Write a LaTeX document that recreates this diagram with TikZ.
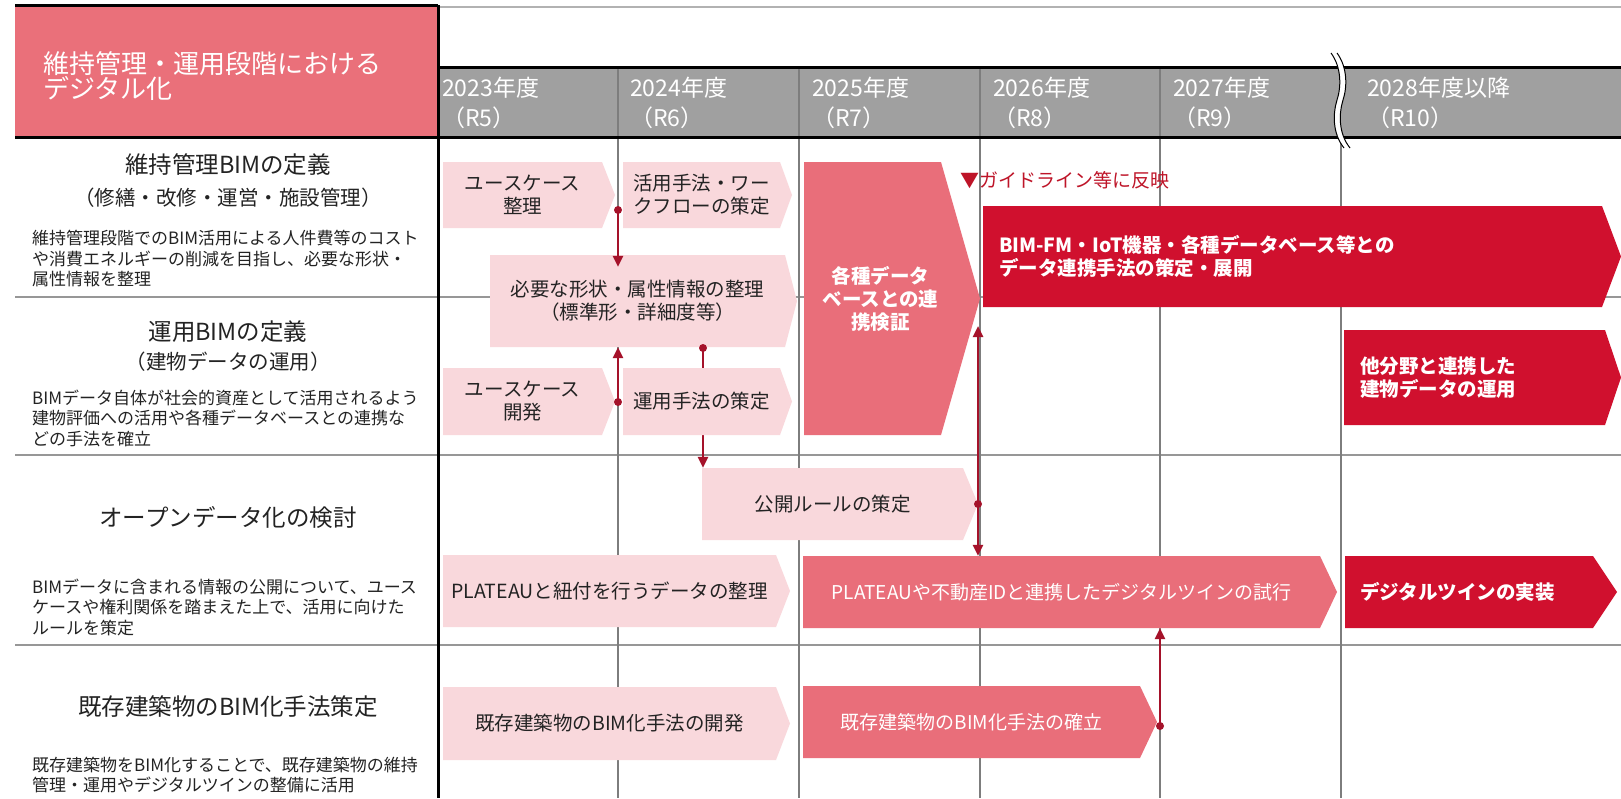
\documentclass[tikz,border=0pt]{standalone}
\usepackage{fontspec}
\setmainfont{Noto Sans CJK JP}
\usetikzlibrary{arrows.meta,calc}
\definecolor{titlered}{RGB}{234,112,122}
\definecolor{midpink}{RGB}{233,110,122}
\definecolor{lightpink}{RGB}{249,216,220}
\definecolor{darkred}{RGB}{208,16,46}
\definecolor{connred}{RGB}{165,18,42}
\definecolor{headgray}{RGB}{160,160,160}
\definecolor{gridgray}{RGB}{125,125,125}
\definecolor{txt}{RGB}{35,35,35}
\definecolor{guide}{RGB}{190,20,40}
\pgfdeclarelayer{back}
\pgfdeclarelayer{under}
\pgfsetlayers{back,under,main}
\newcommand\fsz[2]{\fontsize{#1}{#2}\selectfont}
\newcommand\chev[9]{%
  \fill[#2] (#4,#5) -- (#6,#5) -- ({#6+#8},{(#5+#7)/2}) -- (#6,#7) -- (#4,#7) -- cycle;
  \node[boxnode,#3,minimum width={(#6-#4)*1pt},minimum height={(#7-#5)*1pt}] (#1) at ({(#4+#6)/2},{(#5+#7)/2}) {#9};%
}
\begin{document}
\begin{tikzpicture}[x=1pt,y=-1pt,
  boxnode/.style={inner sep=0pt, align=center},
  lt/.style={text=txt, font=\fsz{19.5}{23}},
  wt/.style={text=white, font=\fsz{19.5}{23}\bfseries},
  wr/.style={text=white, font=\fsz{19}{23}},
  conn/.style={draw=connred, line width=2.5pt, -{Triangle[length=11pt,width=10pt]}},
  rowline/.style={draw=gridgray!80, line width=1.2pt},
  colline/.style={draw=gridgray, line width=1.2pt},
  thick3/.style={draw=black, line width=3pt},
  hdr/.style={text=white, font=\fsz{23}{30}, anchor=west, align=left, inner sep=0pt},
  rowtitle/.style={text=txt, font=\fsz{23.5}{28}, inner sep=0pt},
  rowsub/.style={text=txt, font=\fsz{20.5}{24}, inner sep=0pt},
  desc/.style={text=txt, font=\fsz{17}{20.5}, align=left, anchor=west, inner sep=0pt}]
\useasboundingbox (0,0) rectangle (1621,798);
\begin{pgfonlayer}{back}
  \fill[white] (0,0) rectangle (1621,798);
  \fill[titlered] (15,5) rectangle (438,137);
  \fill[headgray] (438,67) rectangle (1621,137);
  \draw[draw=gray!60, line width=2pt] (438,7) -- (1621,7);
  \foreach \y in {297,455,645} \draw[rowline] (15,\y) -- (1621,\y);
  \foreach \x in {618,799,980,1160} \draw[colline] (\x,67) -- (\x,798);
  \draw[colline] (1341,137) -- (1341,798);
  \draw[thick3] (15,5) -- (438,5);
  \draw[thick3] (438,67) -- (1621,67);
  \draw[thick3] (15,137) -- (1621,137);
  \draw[thick3] (438,5) -- (438,798);
  % break mark
  \fill[white] (1331,53) .. controls (1342,68) and (1341,88) .. (1337,100)
     .. controls (1333,113) and (1332,133) .. (1344,148) -- (1350,148)
     .. controls (1338,133) and (1339,113) .. (1343,100)
     .. controls (1347,88) and (1348,68) .. (1337,53) -- cycle;
  \draw[black, line width=1pt] (1331,53) .. controls (1342,68) and (1341,88) .. (1337,100)
     .. controls (1333,113) and (1332,133) .. (1344,148);
  \draw[black, line width=1pt] (1337,53) .. controls (1348,68) and (1347,88) .. (1343,100)
     .. controls (1339,113) and (1338,133) .. (1350,148);
\end{pgfonlayer}

% title and header
\node[anchor=west, text=white, font=\fsz{26}{25.5}, align=left, inner sep=0pt] (title) at (43,76) {維持管理・運用段階における\\デジタル化};
\node[hdr] (y23) at (442,103) {2023年度\\（R5）};
\node[hdr] (y24) at (630,103) {2024年度\\（R6）};
\node[hdr] (y25) at (812,103) {2025年度\\（R7）};
\node[hdr] (y26) at (993,103) {2026年度\\（R8）};
\node[hdr] (y27) at (1173,103) {2027年度\\（R9）};
\node[hdr] (y28) at (1367,103) {2028年度以降\\（R10）};

% left panel
\node[rowtitle] (r1t) at (228,165) {維持管理BIMの定義};
\node[rowsub] (r1s) at (228,198) {（修繕・改修・運営・施設管理）};
\node[desc] (r1d) at (32,259) {維持管理段階でのBIM活用による人件費等のコスト\\や消費エネルギーの削減を目指し、必要な形状・\\属性情報を整理};
\node[rowtitle] (r2t) at (228,332) {運用BIMの定義};
\node[rowsub] (r2s) at (228,362) {（建物データの運用）};
\node[desc] (r2d) at (32,418) {BIMデータ自体が社会的資産として活用されるよう\\建物評価への活用や各種データベースとの連携な\\どの手法を確立};
\node[rowtitle] (r3t) at (228,517) {オープンデータ化の検討};
\node[desc] (r3d) at (32,607) {BIMデータに含まれる情報の公開について、ユース\\ケースや権利関係を踏まえた上で、活用に向けた\\ルールを策定};
\node[rowtitle] (r4t) at (228,707) {既存建築物のBIM化手法策定};
\node[desc] (r4d) at (32,775) {既存建築物をBIM化することで、既存建築物の維持\\管理・運用やデジタルツインの整備に活用};

% boxes
\chev{uc1}{lightpink}{lt}{443}{162}{602}{228}{13}{ユースケース\\整理}
\chev{kt}{lightpink}{lt}{623}{162}{780}{228}{12}{活用手法・ワー\\クフローの策定}
\chev{hs}{lightpink}{lt}{490}{255}{785}{347}{12}{必要な形状・属性情報の整理\\（標準形・詳細度等）}
\chev{uc2}{lightpink}{lt}{443}{368}{602}{435}{13}{ユースケース\\開発}
\chev{uy}{lightpink}{lt}{623}{368}{780}{435}{12}{運用手法の策定}
\chev{kk}{midpink}{wt,xshift=8pt}{804}{162}{941}{435}{39}{各種データ\\ベースとの連\\携検証}
\chev{bf}{darkred}{wt,align=left,text width=587pt}{983}{206}{1602}{307}{19}{BIM-FM・IoT機器・各種データベース等との\\データ連携手法の策定・展開}
\chev{ta}{darkred}{wt,align=left,text width=229pt}{1344}{330}{1605}{425}{16}{他分野と連携した\\建物データの運用}
\chev{kr}{lightpink}{lt}{702}{468}{963}{540}{15}{公開ルールの策定}
\chev{p1}{lightpink}{lt}{443}{555}{776}{627}{14}{PLATEAUと紐付を行うデータの整理}
\chev{p2}{midpink}{wr}{803}{556}{1320}{628}{17}{PLATEAUや不動産IDと連携したデジタルツインの試行}
\chev{dt}{darkred}{wt,align=left,text width=218pt}{1345}{556}{1593}{628}{24}{デジタルツインの実装}
\chev{k1}{lightpink}{lt}{443}{687}{776}{760}{14}{既存建築物のBIM化手法の開発}
\chev{k2}{midpink}{wr}{803}{686}{1140}{758}{17}{既存建築物のBIM化手法の確立}

\node[anchor=west, text=guide, font=\fsz{19}{22}, inner sep=0pt] (gl) at (960,180) {▼ガイドライン等に反映};

% connectors
\coordinate (dA) at (618,210);
\coordinate (dB) at (618,402);
\coordinate (dC) at (703,348);
\coordinate (dD) at (978,504);
\coordinate (kkpt) at (978,326);
\coordinate (dE) at (1160,726);
\begin{pgfonlayer}{under}
  \draw[conn] (dC) -- (dC |- kr.north);
\end{pgfonlayer}
\draw[conn] (dA) -- ($(dA |- hs.north)+(0,12)$);
\draw[conn] (dB) -- (dB |- hs.south);
\draw[conn] (dD) -- (kkpt);
\draw[conn] (dD) -- (dD |- p2.north);
\draw[conn] (dE) -- (dE |- p2.south);
\foreach \p in {dA,dB,dC,dD,dE} \fill[connred] (\p) circle[radius=4pt];
\end{tikzpicture}
\end{document}
